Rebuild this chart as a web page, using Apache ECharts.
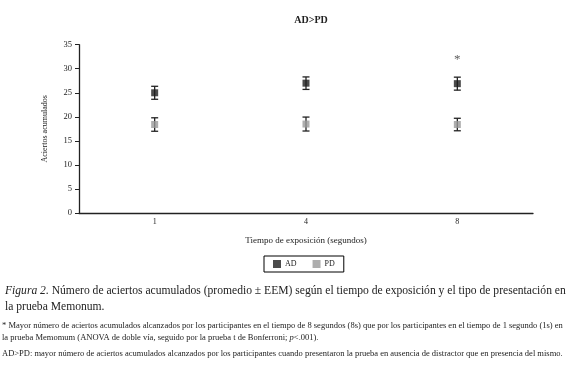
<!DOCTYPE html>
<html>
<head>
<meta charset="utf-8">
<script src="https://cdn.jsdelivr.net/npm/echarts@6/dist/echarts.min.js"></script>
<style>
  html, body { margin: 0; padding: 0; background: #fff; }
  #chart { width: 571px; height: 366px; }
</style>
</head>
<body>
<div id="chart"></div>
<script>
// tiempo de exposición (segundos)
const categories = ['1', '4', '8']
// promedio y EEM
const adMean = [25.0, 27.0, 26.9]
const adErr = [1.35, 1.3, 1.35]
const pdMean = [18.4, 18.5, 18.4]
const pdErr = [1.4, 1.45, 1.3]
// asterisco de significación
const asterisk = [null, null, 32.0]
const yTicks = [0, 5, 10, 15, 20, 25, 30, 35]

const serif = 'Liberation Serif'
const ink = '#222'

function errorData(mean, err) {
  return mean.map((m, i) => [i, m - err[i], m + err[i]])
}

function renderError(params, api) {
  const x = api.value(0)
  const lo = api.coord([x, api.value(1)])
  const hi = api.coord([x, api.value(2)])
  const cap = 3.5
  const style = { stroke: ink, lineWidth: 1.3 }
  return {
    type: 'group',
    children: [
      { type: 'line', shape: { x1: lo[0], y1: lo[1], x2: hi[0], y2: hi[1] }, style },
      { type: 'line', shape: { x1: lo[0] - cap, y1: lo[1], x2: lo[0] + cap, y2: lo[1] }, style },
      { type: 'line', shape: { x1: hi[0] - cap, y1: hi[1], x2: hi[0] + cap, y2: hi[1] }, style }
    ]
  }
}

const chart = echarts.init(document.getElementById('chart'))
const option = {
  animation: false,
  textStyle: { fontFamily: serif, color: ink },
  title: {
    text: 'AD>PD',
    left: 306,
    textAlign: 'center',
    top: 10,
    textStyle: { fontFamily: serif, fontSize: 10, fontWeight: 'bold', color: ink }
  },
  legend: {
    data: ['AD', 'PD'],
    left: 264,
    top: 256,
    padding: [4, 9, 4, 9],
    itemGap: 16,
    itemWidth: 8,
    itemHeight: 8,
    icon: 'rect',
    borderColor: '#000',
    borderWidth: 1,
    borderRadius: 0,
    textStyle: { fontFamily: serif, fontSize: 8, color: ink, padding: [0, 0, 0, -1] }
  },
  grid: { left: 79, right: 38, top: 44.7, bottom: 153 },
  xAxis: {
    type: 'category',
    data: categories,
    boundaryGap: true,
    name: 'Tiempo de exposición (segundos)',
    nameLocation: 'middle',
    nameGap: 23,
    nameTextStyle: { fontFamily: serif, fontSize: 9, color: ink },
    axisLine: { lineStyle: { color: ink, width: 1.3 } },
    axisTick: { alignWithLabel: true, length: 3, lineStyle: { color: ink } },
    axisLabel: { fontFamily: serif, fontSize: 8, color: ink, margin: 5 }
  },
  yAxis: {
    type: 'value',
    min: yTicks[0],
    max: yTicks[yTicks.length - 1],
    interval: yTicks[1] - yTicks[0],
    name: 'Aciertos acumulados',
    nameLocation: 'middle',
    nameGap: 30,
    nameRotate: 90,
    nameTextStyle: { fontFamily: serif, fontSize: 8, color: ink },
    splitLine: { show: false },
    axisLine: { show: true, lineStyle: { color: ink, width: 1.3 } },
    axisTick: { show: true, length: 4, lineStyle: { color: ink } },
    axisLabel: { fontFamily: serif, fontSize: 8.5, color: ink, margin: 7 }
  },
  series: [
    {
      type: 'custom',
      renderItem: renderError,
      data: errorData(adMean, adErr),
      z: 1
    },
    {
      type: 'custom',
      renderItem: renderError,
      data: errorData(pdMean, pdErr),
      z: 1
    },
    {
      name: 'AD',
      type: 'scatter',
      symbol: 'rect',
      symbolSize: 7,
      itemStyle: { color: '#1e1e1e' },
      data: adMean,
      z: 3
    },
    {
      name: 'PD',
      type: 'scatter',
      symbol: 'rect',
      symbolSize: 7,
      itemStyle: { color: '#9a9a9a' },
      data: pdMean,
      z: 3
    },
    {
      type: 'scatter',
      symbolSize: 0,
      data: asterisk,
      label: {
        show: true,
        position: 'inside',
        formatter: '*',
        fontFamily: serif,
        fontSize: 13,
        color: '#333'
      }
    }
  ],
  graphic: [
    {
      type: 'text',
      left: 5,
      top: 283,
      style: {
        text: '{i|Figura 2.} Número de aciertos acumulados (promedio ± EEM) según el tiempo de exposición y el tipo de presentación en\nla prueba Memonum.',
        font: '11.6px "Liberation Serif"',
        fill: ink,
        lineHeight: 16,
        rich: {
          i: { fontStyle: 'italic', fontFamily: serif, fontSize: 11.6, fill: ink }
        }
      }
    },
    {
      type: 'text',
      left: 2,
      top: 320,
      style: {
        text: '* Mayor número de aciertos acumulados alcanzados por los participantes en el tiempo de 8 segundos (8s) que por los participantes en el tiempo de 1 segundo (1s) en\nla prueba Memomum (ANOVA de doble vía, seguido por la prueba t de Bonferroni; {i|p}<.001).',
        font: '8.5px "Liberation Serif"',
        fill: ink,
        lineHeight: 12,
        rich: {
          i: { fontStyle: 'italic', fontFamily: serif, fontSize: 8.5, fill: ink }
        }
      }
    },
    {
      type: 'text',
      left: 2,
      top: 349,
      style: {
        text: 'AD>PD: mayor número de aciertos acumulados alcanzados por los participantes cuando presentaron la prueba en ausencia de distractor que en presencia del mismo.',
        font: '8.5px "Liberation Serif"',
        fill: ink
      }
    }
  ]
}
chart.setOption(option)
</script>
</body>
</html>
